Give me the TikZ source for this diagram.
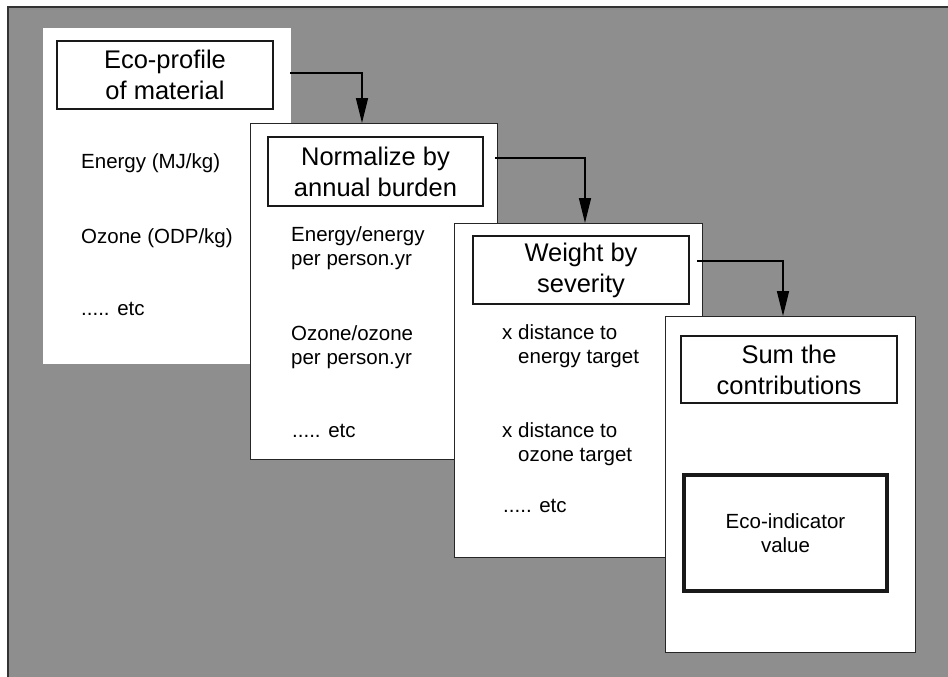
\documentclass[tikz,border=0pt]{standalone}
\usepackage{fontspec}
\setmainfont{Liberation Sans}
\usetikzlibrary{positioning,arrows.meta}
\definecolor{bggray}{RGB}{142,142,142}

\begin{document}
\begin{tikzpicture}[x=1pt,y=-1pt,
  panel/.style={draw=black!85,line width=1.3pt,fill=white,anchor=north west,inner sep=0pt},
  title/.style={draw=black!90,line width=1.3pt,fill=white,align=center,inner sep=0pt,
    font=\fontsize{25.5}{31}\selectfont},
  lb/.style={font=\fontsize{20.5}{24}\selectfont,align=left,anchor=base west,inner sep=0pt},
  flow/.style={line width=1.5pt,-{Triangle[length=25pt,width=12pt]}}]
\useasboundingbox (0,0) rectangle (948,677);
\fill[bggray] (8,7) rectangle (948,677);
\draw[line width=1.5pt,black!80] (8,677) -- (8,7) -- (948,7);

% panels, back to front (base of a two-line label = its last line)
\node[panel,draw=none,minimum width=248pt,minimum height=336pt] (p1) at (42,27) {};
\node[title,minimum width=216pt,minimum height=68pt] (t1) at (165,75) {Eco-profile\\of material};
\node[lb] (e1) at (81,168) {Energy (MJ/kg)};
\node[lb] (o1) at (81,243) {Ozone (ODP/kg)};
\node[lb] (x1) at (81,315) {..... etc};

\node[panel,minimum width=247pt,minimum height=336pt] (p2) at (250,123) {};
\node[title,minimum width=215pt,minimum height=69pt] (t2) at (375.5,171.5) {Normalize by\\annual burden};
\node[lb] (e2) at (291,265) {Energy/energy\\per person.yr};
\node[lb] (o2) at (291,364) {Ozone/ozone\\per person.yr};
\node[lb] (x2) at (292,437) {..... etc};

\node[panel,minimum width=248pt,minimum height=334pt] (p3) at (454,223) {};
\node[title,minimum width=216pt,minimum height=68pt] (t3) at (581,270) {Weight by\\severity};
\node[lb] (e3) at (502,363) {x distance to\\\hspace*{16pt}energy target};
\node[lb] (o3) at (502,461) {x distance to\\\hspace*{16pt}ozone target};
\node[lb] (x3) at (503,512) {..... etc};

\node[panel,minimum width=250pt,minimum height=336pt] (p4) at (665,316) {};
\node[title,minimum width=216pt,minimum height=67pt] (t4) at (789,369.5) {Sum the\\contributions};
\node[title,line width=4pt,minimum width=203pt,minimum height=116pt,
  font=\fontsize{20.5}{24}\selectfont] (v4) at (785.5,533) {Eco-indicator\\value};

% connectors
\coordinate (s1) at (290,73);
\coordinate (d1) at (362,123);
\coordinate (s2) at (495,158);
\coordinate (d2) at (585,223);
\coordinate (s3) at (697,261);
\coordinate (d3) at (783,316);
\draw[flow] (s1) -| (d1);
\draw[flow] (s2) -| (d2);
\draw[flow] (s3) -| (d3);
\end{tikzpicture}
\end{document}
